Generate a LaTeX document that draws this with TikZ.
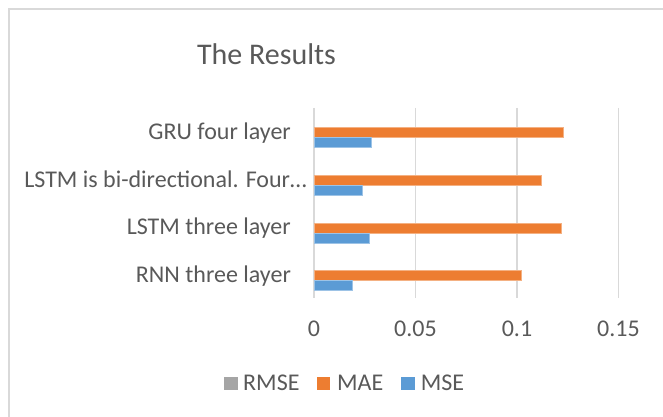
\documentclass[tikz,border=0pt]{standalone}
\usepackage{fontspec}
\setmainfont{Carlito}
\usepackage{tikz}
\usetikzlibrary{positioning,calc}
\usepackage{xcolor}
\definecolor{ink}{HTML}{595959}
\definecolor{grid}{HTML}{D9D9D9}
\definecolor{mae}{HTML}{ED7D31}
\definecolor{mse}{HTML}{5B9BD5}
\definecolor{rmse}{HTML}{A5A5A5}
\tikzset{cat/.style={anchor=base east,text=ink,font=\fontsize{24}{27}\selectfont,inner sep=0pt},tick/.style={anchor=base,text=ink,font=\fontsize{24}{27}\selectfont,inner sep=0pt},key/.style={anchor=base west,text=ink,font=\fontsize{24}{27}\selectfont,inner sep=0pt},gridline/.style={draw=grid,line width=1.5pt},maebar/.style={fill=mae,draw=mae!60!white,line width=.6pt},msebar/.style={fill=mse,draw=mse!60!white,line width=.6pt}}

\begin{document}
\begin{tikzpicture}[x=1pt,y=-1pt]
\useasboundingbox (0,0) rectangle (663,417);
% chart frame
\draw[draw=grid,line width=2pt] (663,9.5) -- (9,9.5) -- (9,417);
\node[anchor=base,text=ink,font=\fontsize{30}{34}\selectfont,inner sep=0pt] (title) at (266.5,65) {The Results};
% grid
\draw[gridline] (314,108) -- (314,298);\draw[gridline] (415.5,108) -- (415.5,298);\draw[gridline] (517,108) -- (517,298);\draw[gridline] (618.5,108) -- (618.5,298);
\node[tick] (t0) at (314,336.5) {0};\node[tick] (t1) at (415.5,336.5) {0.05};\node[tick] (t2) at (517,336.5) {0.1};\node[tick] (t3) at (618.5,336.5) {0.15};
% categories
\node[cat] (gru) at (291,139.5) {GRU four layer};
\node[cat] (bilstm) at (307,187) {LSTM is bi-directional. Four\ldots};
\node[cat] (lstm) at (291,234.5) {LSTM three layer};
\node[cat] (rnn) at (291,282) {RNN three layer};
% bars
\begin{scope}[xshift=314pt,x=2030pt]
\draw[maebar] (0,127.3) rectangle (0.123,137.3);\draw[msebar] (0,137.3) rectangle (0.028,147.3);
\draw[maebar] (0,175.1) rectangle (0.112,185.1);\draw[msebar] (0,185.1) rectangle (0.024,195.1);
\draw[maebar] (0,222.9) rectangle (0.122,232.9);\draw[msebar] (0,232.9) rectangle (0.027,242.9);
\draw[maebar] (0,270.7) rectangle (0.102,280.7);\draw[msebar] (0,280.7) rectangle (0.019,290.7);
\end{scope}
% legend
\fill[rmse] (224.3,376.7) rectangle (237.7,390);\node[key] (krmse) at (243,390) {RMSE};
\fill[mae] (316.7,376.7) rectangle (330.3,390);\node[key] (kmae) at (337,390) {MAE};
\fill[mse] (401,376.7) rectangle (414.7,390);\node[key] (kmse) at (420.7,390) {MSE};
\end{tikzpicture}
\end{document}
